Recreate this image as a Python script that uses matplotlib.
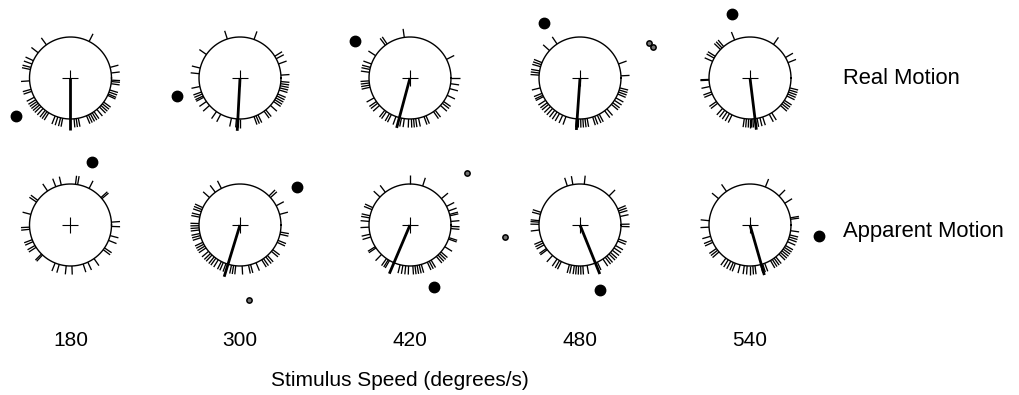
import numpy as np
import matplotlib.pyplot as plt
from matplotlib.collections import LineCollection

plt.rcParams['font.family'] = ['Liberation Sans', 'DejaVu Sans']

speeds = ['180', '300', '420', '480', '540']
conditions = ['Real Motion', 'Apparent Motion']

# single-trial phases, degrees counter-clockwise from east
real_phases = [
    [7, 15, 63, 126, 142, 155, 160, 165, 168, 184, 196, 199, 208, 212, 215, 218, 221, 224,
     228, 232, 235, 238, 248, 252, 256, 259, 275, 278, 281, 293, 296, 299, 302, 305, 310,
     315, 318, 321, 324, 335, 337, 340, 343, 352, 355, 357],
    [4, 20, 28, 32, 70, 108, 145, 166, 174, 192, 200, 203, 206, 208, 215, 222, 235, 242,
     258, 265, 268, 270, 290, 293, 296, 306, 309, 318, 325, 328, 331, 334, 337, 343, 346,
     349, 352, 355],
    [0, 27, 98, 124, 127, 147, 160, 165, 168, 172, 184, 187, 190, 193, 209, 215, 218, 222,
     232, 235, 240, 243, 250, 255, 258, 262, 268, 272, 275, 278, 282, 290, 293, 305, 308,
     318, 322, 325, 335, 345, 352],
    [3, 20, 124, 138, 158, 161, 164, 170, 173, 176, 194, 202, 205, 207, 213, 217, 220, 224,
     228, 232, 236, 240, 245, 250, 265, 268, 271, 274, 277, 280, 288, 291, 295, 298, 307,
     311, 320, 323, 327, 331, 337, 340, 343, 346],
    [22, 30, 55, 112, 130, 133, 136, 148, 151, 156, 182, 183, 192, 200, 203, 215, 218, 228,
     232, 236, 240, 244, 262, 265, 268, 270, 272, 274, 280, 284, 288, 298, 302, 318, 321,
     324, 327, 334, 337, 340, 343, 346],
]
apparent_phases = [
    [4, 40, 42, 63, 80, 83, 103, 111, 124, 143, 146, 165, 183, 186, 201, 204, 210, 213,
     225, 227, 248, 254, 264, 272, 288, 295, 305, 323, 326, 338, 345, 358],
    [15, 28, 42, 45, 117, 127, 138, 155, 158, 161, 166, 169, 178, 181, 184, 187, 192, 195,
     198, 205, 208, 211, 214, 220, 224, 227, 231, 234, 238, 243, 246, 250, 258, 261, 264,
     273, 282, 285, 293, 302, 305, 309, 312, 320, 323, 335, 338, 347, 350],
    [5, 13, 15, 20, 27, 40, 72, 90, 127, 137, 155, 158, 167, 170, 175, 183, 193, 197, 212,
     214, 226, 235, 238, 240, 256, 260, 264, 268, 274, 277, 280, 283, 286, 295, 298, 301,
     310, 313, 316, 319, 328, 340, 342, 355, 358],
    [1, 12, 17, 20, 23, 45, 84, 100, 108, 162, 165, 174, 176, 179, 187, 203, 206, 209, 215,
     217, 228, 236, 240, 243, 255, 258, 262, 265, 268, 271, 274, 280, 292, 295, 304, 308,
     311, 315, 318, 322, 326, 330, 337, 340, 358],
    [8, 10, 32, 45, 68, 125, 140, 174, 183, 196, 202, 205, 215, 218, 221, 234, 238, 242,
     246, 249, 256, 262, 266, 270, 274, 277, 285, 288, 291, 300, 303, 306, 309, 315, 318,
     321, 324, 327, 330, 336, 340, 343, 346, 352],
]

# mean phase direction (deg) and vector length (circle radii)
real_mean_dir = [270, 267, 255, 266, 277]
real_mean_len = [1.28, 1.29, 1.26, 1.27, 1.27]
apparent_mean_dir = [0, 253, 247, 292, 286]
apparent_mean_len = [0.0, 1.32, 1.29, 1.29, 1.27]

# group means shown outside the circle: direction, distance (radii)
real_group_dir = [215, 196, 146, 123, 106]
real_group_dist = [1.61, 1.60, 1.61, 1.61, 1.63]
apparent_group_dir = [71, 34, 291, 287, 351]
apparent_group_dist = [1.63, 1.67, 1.62, 1.66, 1.71]

# single-subject outliers: panel (row, col), direction, distance
outlier_panel = [(0, 3), (0, 3), (1, 1), (1, 2), (1, 3)]
outlier_dir = [27, 23, 277, 42, 189]
outlier_dist = [1.88, 1.93, 1.84, 1.88, 1.85]

R = 41          # circle radius in pixels
col_x = [70.5, 240, 410, 580, 750]
row_y = [78, 225]


def polar(cx, cy, ang, r):
    a = np.deg2rad(np.asarray(ang, dtype=float))
    return cx + r * R * np.cos(a), cy - r * R * np.sin(a)


fig = plt.figure(figsize=(10.19, 3.95), dpi=100)
ax = fig.add_axes([0, 0, 1, 1])
ax.set_xlim(0, 1019)
ax.set_ylim(395, 0)
ax.axis('off')

phases = [real_phases, apparent_phases]
mean_dir = [real_mean_dir, apparent_mean_dir]
mean_len = [real_mean_len, apparent_mean_len]
group_dir = [real_group_dir, apparent_group_dir]
group_dist = [real_group_dist, apparent_group_dist]

theta = np.linspace(0, 360, 361)
for row in range(2):
    for col in range(5):
        cx, cy = col_x[col], row_y[row]
        x, y = polar(cx, cy, theta, 1.0)
        ax.plot(x, y, color='black', lw=1.0)
        ax.plot(cx, cy, marker='+', ms=11, mew=0.8, color='black')

        ph = phases[row][col]
        x0, y0 = polar(cx, cy, ph, 1.0)
        x1, y1 = polar(cx, cy, ph, 1.21)
        segs = np.stack([np.column_stack([x0, y0]), np.column_stack([x1, y1])], axis=1)
        ax.add_collection(LineCollection(segs, colors='black', linewidths=0.95))

        if mean_len[row][col] > 0:
            mx, my = polar(cx, cy, mean_dir[row][col], mean_len[row][col])
            ax.plot([cx, mx], [cy, my], color='black', lw=2, solid_capstyle='butt')

        gx, gy = polar(cx, cy, group_dir[row][col], group_dist[row][col])
        ax.plot(gx, gy, 'o', ms=7.5, color='black')

for (row, col), d, r in zip(outlier_panel, outlier_dir, outlier_dist):
    ox, oy = polar(col_x[col], row_y[row], d, r)
    ax.plot(ox, oy, 'o', ms=3.8, mfc='0.45', mec='black', mew=1.1)

for row, label in enumerate(conditions):
    ax.text(843, row_y[row] + (0 if row == 0 else 7), label, fontsize=15.8,
            ha='left', va='center')
for col, s in enumerate(speeds):
    ax.text(col_x[col], 340, s, fontsize=15, ha='center', va='center')
ax.text(400, 381, 'Stimulus Speed (degrees/s)', fontsize=15, ha='center', va='center')

fig.savefig('out.png', dpi=100)
